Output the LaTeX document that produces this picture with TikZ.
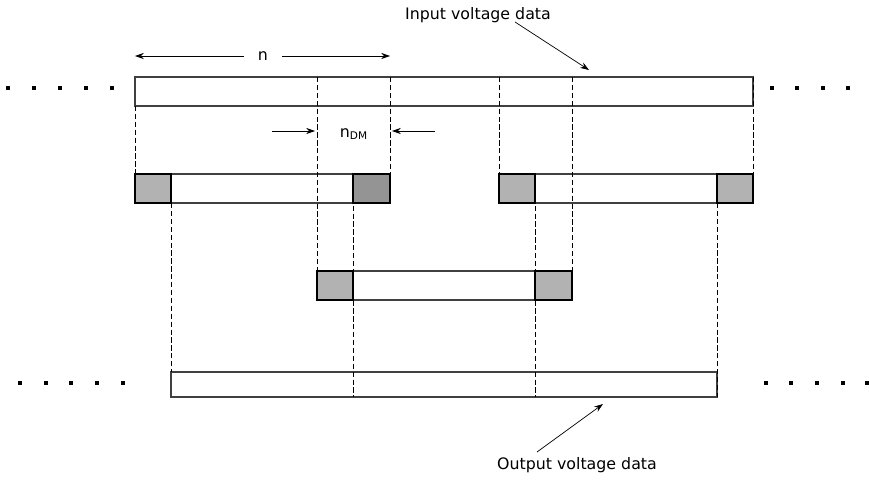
\documentclass[tikz,border=0pt]{standalone}
\usepackage{fontspec}
\setmainfont{DejaVu Sans}
\usetikzlibrary{arrows.meta,positioning}

\begin{document}
\begin{tikzpicture}[x=0.02cm,y=-0.02cm,>={Stealth[length=5pt,width=3.5pt]},font=\fontsize{9}{11}\selectfont,
  bar/.style={draw=black!75,line width=0.7pt},
  pad/.style={draw=black,line width=0.8pt,fill=black!30},
  padd/.style={draw=black,line width=0.8pt,fill=black!42},
  guide/.style={dash pattern=on 3pt off 1.5pt,line width=0.5pt},
  dotbox/.style={fill=black,minimum size=2.5pt,inner sep=0pt}]
\useasboundingbox (0,0) rectangle (869,480);

% input data
\draw[bar] (135,77) rectangle (753,106);
% frames taken out of it
\draw[bar] (135,174) rectangle (390,203);
\draw[pad] (135,174) rectangle (171,203);
\draw[padd] (353,174) rectangle (390,203);
\draw[bar] (499,174) rectangle (753,203);
\draw[pad] (499,174) rectangle (535,203);
\draw[pad] (717,174) rectangle (753,203);
\draw[bar] (317,271) rectangle (572,300);
\draw[pad] (317,271) rectangle (353,300);
\draw[pad] (535,271) rectangle (572,300);
% output data
\draw[bar] (171,372) rectangle (717,397);

% guides
\draw[guide] (135,106) -- (135,174);
\draw[guide] (317,77) -- (317,271);
\draw[guide] (390,77) -- (390,203);
\draw[guide] (499,77) -- (499,174);
\draw[guide] (572,77) -- (572,300);
\draw[guide] (753,77) -- (753,203);
\draw[guide] (171,203) -- (171,372);
\draw[guide] (353,174) -- (353,397);
\draw[guide] (535,174) -- (535,397);
\draw[guide] (717,203) -- (717,397);

% dots
\foreach \x in {8,34,60,86,112} \node[dotbox] at (\x,88) {};
\foreach \x in {772,797,823,848} \node[dotbox] at (\x,88) {};
\foreach \x in {20,46,71,97,123} \node[dotbox] at (\x,383) {};
\foreach \x in {766,791,817,843,867} \node[dotbox] at (\x,383) {};

% frame length
\node[inner sep=8pt] (n) at (263,56) {n};
\coordinate (nl) at (135,56);
\coordinate (nr) at (390,56);
\draw[->] (n) -- (nl);
\draw[->] (n) -- (nr);

% overlap
\node (ndm) at (354,134) {n\textsubscript{DM}};
\coordinate (dma) at (272,131);
\coordinate (dmb) at (315,131);
\coordinate (dmc) at (435,131);
\coordinate (dmd) at (392,131);
\draw[->] (dma) -- (dmb);
\draw[->] (dmc) -- (dmd);

% labels
\node (inlab) at (478,15) {Input voltage data};
\coordinate (instart) at (515,22);
\coordinate (inend) at (589,70);
\draw[->] (instart) -- (inend);
\node (outlab) at (577,465) {Output voltage data};
\coordinate (outstart) at (537,452);
\coordinate (outend) at (603,404);
\draw[->] (outstart) -- (outend);
\end{tikzpicture}
\end{document}
